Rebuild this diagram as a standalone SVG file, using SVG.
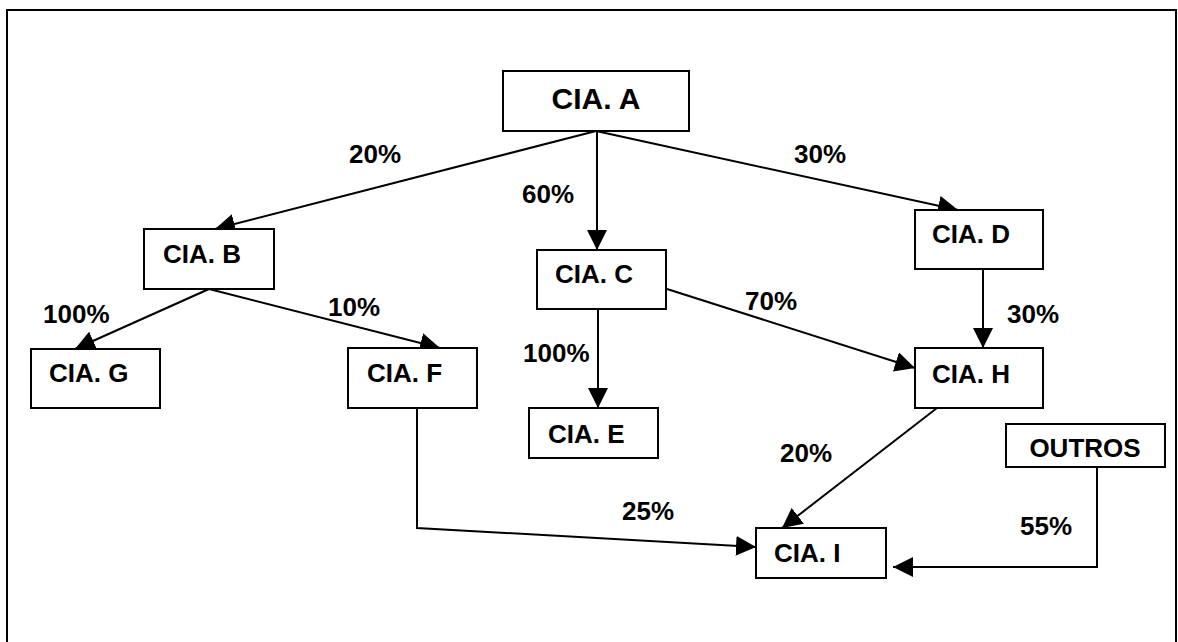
<svg xmlns="http://www.w3.org/2000/svg" width="1178" height="642" viewBox="0 0 1178 642">
<style>
  .box { fill: #fff; stroke: #000; stroke-width: 2; }
  .t { font-family: "Liberation Sans", Arial, sans-serif; font-weight: bold; font-size: 26px; fill: #000; }
  .big { font-size: 30px; }
  .c { fill: none; stroke: #000; stroke-width: 2; }
</style>
<defs>
  <marker id="ah" markerUnits="userSpaceOnUse" markerWidth="20" markerHeight="20" refX="20" refY="10" orient="auto">
    <path d="M0,0 L20,10 L0,20 z" fill="#000"/>
  </marker>
</defs>
<rect x="0" y="0" width="1178" height="642" fill="#fff"/>
<rect id="frame" x="7" y="10" width="1169" height="640" fill="none" stroke="#000" stroke-width="2"/>
<g id="connectors">
  <line class="c" x1="596" y1="131" x2="215" y2="229" marker-end="url(#ah)"/>
  <line class="c" x1="597" y1="131" x2="597" y2="250" marker-end="url(#ah)"/>
  <line class="c" x1="596" y1="131" x2="958" y2="210" marker-end="url(#ah)"/>
  <line class="c" x1="209" y1="289" x2="75" y2="349" marker-end="url(#ah)"/>
  <line class="c" x1="209" y1="289" x2="440" y2="348" marker-end="url(#ah)"/>
  <line class="c" x1="598" y1="309" x2="598" y2="408" marker-end="url(#ah)"/>
  <line class="c" x1="667" y1="289" x2="915" y2="368" marker-end="url(#ah)"/>
  <line class="c" x1="983" y1="269" x2="983" y2="348" marker-end="url(#ah)"/>
  <polyline class="c" points="417,408 417,528 756,547" marker-end="url(#ah)"/>
  <line class="c" x1="937" y1="408" x2="782" y2="528" marker-end="url(#ah)"/>
  <polyline class="c" points="1097,467 1097,567 893,567" marker-end="url(#ah)"/>
</g>
<g id="labels">
  <text class="t" x="349" y="163">20%</text>
  <text class="t" x="522" y="203">60%</text>
  <text class="t" x="794" y="163">30%</text>
  <text class="t" x="43" y="323">100%</text>
  <text class="t" x="328" y="316">10%</text>
  <text class="t" x="523" y="362">100%</text>
  <text class="t" x="745" y="310">70%</text>
  <text class="t" x="1007" y="323">30%</text>
  <text class="t" x="780" y="462">20%</text>
  <text class="t" x="622" y="520">25%</text>
  <text class="t" x="1020" y="535">55%</text>
</g>
<g id="nodeA"><rect class="box" x="503" y="71" width="186" height="60"/><text class="t big" x="596" y="109" text-anchor="middle">CIA. A</text></g>
<g id="nodeB"><rect class="box" x="144" y="229" width="130" height="60"/><text class="t" x="163" y="263">CIA. B</text></g>
<g id="nodeC"><rect class="box" x="537" y="250" width="129" height="59"/><text class="t" x="555" y="283">CIA. C</text></g>
<g id="nodeD"><rect class="box" x="915" y="210" width="128" height="59"/><text class="t" x="932" y="243">CIA. D</text></g>
<g id="nodeG"><rect class="box" x="31" y="349" width="129" height="59"/><text class="t" x="49" y="382">CIA. G</text></g>
<g id="nodeF"><rect class="box" x="348" y="348" width="129" height="60"/><text class="t" x="367" y="382">CIA. F</text></g>
<g id="nodeE"><rect class="box" x="529" y="408" width="129" height="50"/><text class="t" x="548" y="443">CIA. E</text></g>
<g id="nodeH"><rect class="box" x="915" y="348" width="128" height="60"/><text class="t" x="932" y="383">CIA. H</text></g>
<g id="nodeOUTROS"><rect class="box" x="1006" y="424" width="159" height="43"/><text class="t" x="1085" y="457" text-anchor="middle">OUTROS</text></g>
<g id="nodeI"><rect class="box" x="756" y="528" width="130" height="50"/><text class="t" x="774" y="562">CIA. I</text></g>
</svg>
